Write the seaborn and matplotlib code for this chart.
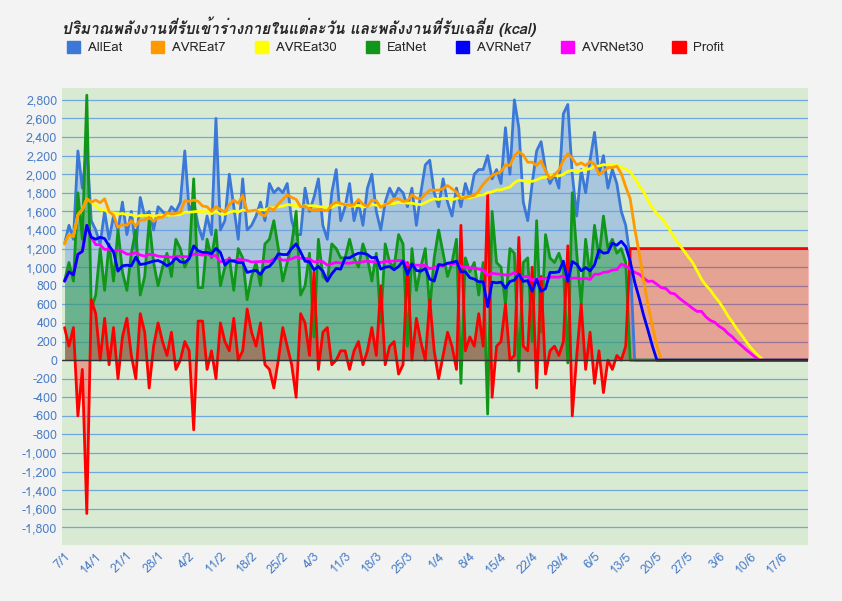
import numpy as np
import pandas as pd
import matplotlib
matplotlib.use("Agg")
import matplotlib.pyplot as plt
import seaborn as sns
from matplotlib import font_manager
from matplotlib.patches import Patch

# daily intake (kcal), 7/1 .. 15/5
all_eat = [
    1250, 1450, 1300, 2250, 1850, 2300, 1500,
    1400, 1250, 1600, 1300, 1550, 1400, 1700,
    1350, 1600, 1200, 1750, 1550, 1600, 1400,
    1650, 1600, 1550, 1650, 1600, 1700, 2250,
    1600, 1700, 1450, 1300, 1550, 1350, 2600,
    1400, 1500, 2000, 1650, 1300, 1950, 1400,
    1450, 1550, 1700, 1500, 1900, 1800, 1850,
    1800, 1900, 1500, 1350, 1350, 1850, 1600,
    1750, 1950, 1450, 1300, 1800, 2050, 1500,
    1650, 1900, 1500, 1700, 1450, 1850, 2000,
    1600, 1400, 1700, 1850, 1750, 1850, 1800,
    1650, 1850, 1450, 1800, 2100, 2150, 1800,
    1650, 1950, 1700, 1550, 1850, 1650, 1900,
    1750, 2000, 2050, 2050, 2200, 1950, 2050,
    1900, 2500, 2000, 2800, 2500, 1700, 1500,
    1900, 2250, 2350, 2050, 1900, 2000, 1850,
    2650, 2750, 2000, 1550, 2050, 1800, 2150,
    2450, 2000, 2200, 1850, 2050, 1900, 1600,
    1450, 1100,
]
eat_net = [
    850, 1050, 850, 1800, 1300, 2850, 550,
    700, 1200, 750, 1250, 850, 1400, 950,
    750, 1150, 1400, 700, 900, 1500, 1050,
    800, 1000, 1150, 900, 1300, 1200, 1000,
    1100, 1950, 780, 780, 1300, 1100, 1400,
    800, 1000, 1100, 750, 1200, 1100, 650,
    900, 1050, 800, 1250, 1300, 1500, 1200,
    850, 1050, 1250, 1600, 700, 800, 1150,
    250, 1300, 900, 850, 1250, 1200, 1100,
    1100, 1300, 1100, 1000, 1250, 1100, 850,
    1150, 400, 1250, 1050, 1000, 1350, 1250,
    150, 1200, 750, 1000, 1200, 550, 1100,
    1400, 1150, 900, 1050, 1300, -250, 1100,
    950, 1050, 700, 1050, -580, 1600, 1050,
    1000, 600, 1200, 1150, -120, 1050, 1100,
    200, 1500, 300, 1350, 1100, 1050, 1150,
    1000, -30, 1800, 1150, 600, 1300, 900,
    1450, 1100, 1550, 1200, 1300, 1150, 1200,
    1050, 0,
]
target = 1200
n_days = 168  # 7/1 .. 23/6
tick_labels = ["7/1", "14/1", "21/1", "28/1", "4/2", "11/2", "18/2", "25/2",
               "4/3", "11/3", "18/3", "25/3", "1/4", "8/4", "15/4", "22/4",
               "29/4", "6/5", "13/5", "20/5", "27/5", "3/6", "10/6", "17/6"]

pad = n_days - len(all_eat)
df = pd.DataFrame({
    "day": np.arange(n_days),
    "AllEat": all_eat + [0] * pad,
    "EatNet": eat_net + [0] * pad,
})
df["AVREat7"] = df["AllEat"].rolling(7, min_periods=1).mean()
df["AVREat30"] = df["AllEat"].rolling(30, min_periods=1).mean()
df["AVRNet7"] = df["EatNet"].rolling(7, min_periods=1).mean()
df["AVRNet30"] = df["EatNet"].rolling(30, min_periods=1).mean()
df["Profit"] = target - df["EatNet"]


def thai_font():
    from fontTools.ttLib import TTFont
    for f in font_manager.fontManager.ttflist:
        try:
            cmap = TTFont(f.fname, fontNumber=0, lazy=True).getBestCmap()
            if cmap and 0x0E1B in cmap:
                return f.name
        except Exception:
            pass
    return None


sns.set_style("white")
th = thai_font()
plt.rcParams["font.family"] = [th, "DejaVu Sans"] if th else ["DejaVu Sans"]

colors = {"AllEat": "#3c78d8", "AVREat7": "#ff9900", "AVREat30": "#ffff00",
          "EatNet": "#109618", "AVRNet7": "#0000ff", "AVRNet30": "#ff00ff",
          "Profit": "#ff0000"}

fig = plt.figure(figsize=(8.42, 6.01), dpi=100, facecolor="#f3f3f3")
ax = fig.add_axes([0.074, 0.093, 0.886, 0.761])
ax.set_facecolor("#d9ead3")

x = df["day"]
ax.fill_between(x, 0, df["AllEat"], color="#6d9eeb", alpha=0.45, lw=0)
ax.fill_between(x, 0, df["EatNet"], color="#109618", alpha=0.4, lw=0)
ax.fill_between(x, 0, df["Profit"], color="#ff0000", alpha=0.3, lw=0)

order = ["AllEat", "EatNet", "Profit", "AVREat30", "AVRNet30", "AVREat7", "AVRNet7"]
widths = {"AllEat": 2, "EatNet": 2, "Profit": 2}
for name in order:
    sns.lineplot(x=x, y=df[name], ax=ax, color=colors[name],
                 lw=widths.get(name, 2), legend=False)

ax.set_xlim(-0.5, n_days - 1)
ax.set_ylim(-1990, 2930)
ax.set_yticks(np.arange(-1800, 2801, 200))
ax.set_yticklabels([f"{v:,}" for v in np.arange(-1800, 2801, 200)])
ax.set_xticks(np.arange(0, 7 * len(tick_labels), 7))
ax.set_xticklabels(tick_labels, rotation=45, ha="right", rotation_mode="anchor")
ax.tick_params(axis="both", colors="#4a7fc7", labelsize=9, length=0)
ax.grid(axis="y", color="#6fa8dc", lw=0.9)
ax.axhline(0, color="#333333", lw=1)
ax.set_xlabel("")
ax.set_ylabel("")
for s in ax.spines.values():
    s.set_visible(False)

fig.text(0.074, 0.955, "ปริมาณพลังงานที่รับเข้าร่างกายในแต่ละวัน และพลังงานที่รับเฉลี่ย (kcal)",
         fontsize=11, fontweight="bold", fontstyle="italic", va="center")
legend_names = ["AllEat", "AVREat7", "AVREat30", "EatNet", "AVRNet7", "AVRNet30", "Profit"]
handles = [Patch(color=colors[n]) for n in legend_names]
fig.legend(handles, legend_names, loc="center left", bbox_to_anchor=(0.065, 0.921),
           ncol=7, frameon=False, fontsize=9.5, handlelength=1, handleheight=1,
           columnspacing=2.2, handletextpad=0.6)

fig.savefig("out.png", dpi=100, facecolor=fig.get_facecolor())
